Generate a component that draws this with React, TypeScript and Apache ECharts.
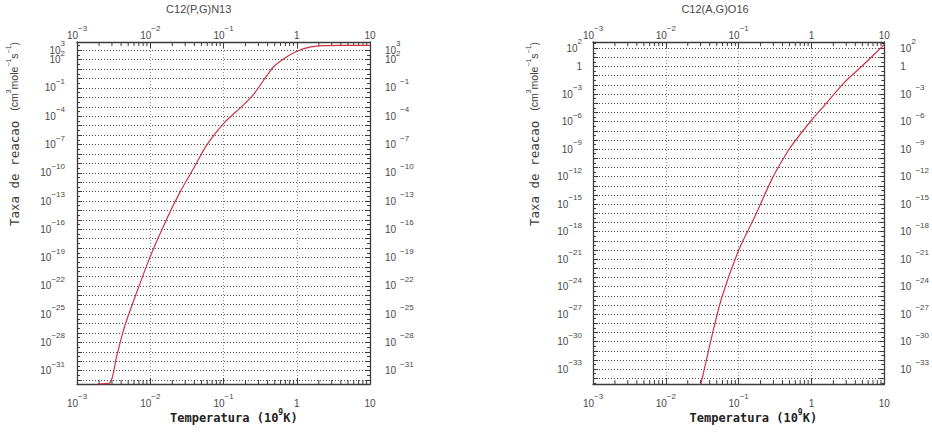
import React, { useEffect, useRef } from "react";
import * as echarts from "echarts";

// Temperature in units of 10^9 K, rate in cm^3 mole^-1 s^-1
const tempPG = [0.00191, 0.00282, 0.00347, 0.00447, 0.00646, 0.01, 0.0178, 0.0257, 0.0389, 0.0589, 0.1, 0.186, 0.251, 0.316, 0.40, 0.479, 0.69, 1.0, 1.5, 2.3, 4.0, 10.0];
const ratePG = [3.8e-33, 5.2e-33, 3.2e-30, 5.0e-27, 1.6e-23, 1.26e-19, 3.2e-15, 1.0e-12, 2.8e-10, 8.5e-8, 1.66e-5, 1.5e-3, 1.6e-2, 0.195, 2.6, 17, 150, 800, 2200, 3200, 3400, 3400];

const tempAG = [0.0282, 0.0302, 0.0437, 0.0589, 0.1, 0.17, 0.288, 0.437, 0.537, 1.0, 1.51, 2.88, 4.79, 10.0];
const rateAG = [5.0e-36, 2.2e-35, 7.6e-30, 7.4e-26, 9.1e-21, 6.0e-17, 6.0e-13, 2.1e-10, 2.6e-9, 1.4e-6, 6.0e-5, 0.021, 0.89, 250];

const titles = ["C12(P,G)N13", "C12(A,G)O16"];
const yLabelExpPG = [3, 2, -1, -4, -7, -10, -13, -16, -19, -22, -25, -28, -31];
const yLabelExpAG = [2, 0, -3, -6, -9, -12, -15, -18, -21, -24, -27, -30, -33];
const yRangePG = [-32.42, 3.88];
const yRangeAG = [-34.62, 2.68];
const xRange = [-3, 1];

const FONT = "'Liberation Sans', Arial, sans-serif";
const MONO = "'DejaVu Sans Mono', 'Liberation Mono', monospace";
const TXT = "#4a4a4a";
const AX = "#3c3c3c";
const RED = "#cc3344";

const rich = {
  b: { fontSize: 10, lineHeight: 21, verticalAlign: "middle", fontFamily: FONT, color: TXT },
  e: { fontSize: 8, lineHeight: 8, verticalAlign: "top", fontFamily: FONT, color: TXT },
  g: { fontSize: 8, lineHeight: 8, verticalAlign: "top", fontFamily: FONT, color: TXT, padding: [0, 0, 0, 4] },
};

function fmtX(val: number) {
  const v = Math.round(val);
  if (Math.abs(val - v) > 1e-6) return "";
  if (v === 0) return "{b|1}";
  if (v === 1) return "{b|10}";
  return `{b|10}{e|\u2212${-v}}`;
}

function fmtY(list: number[], gap: boolean) {
  return (val: number) => {
    const v = Math.round(val);
    if (Math.abs(val - v) > 1e-6) return "";
    if (!list.includes(v)) return "";
    if (v === 0) return "{b|1}";
    const s = v < 0 ? "\u2212" + -v : String(v);
    return `{b|10}{${gap && v < 0 ? "g" : "e"}|${s}}`;
  };
}

const minorX: number[] = [];
for (let d = -3; d < 1; d++) for (let k = 2; k <= 9; k++) minorX.push(d + Math.log10(k));

export default function App() {
  const ref = useRef<HTMLDivElement>(null);
  useEffect(() => {
    if (!ref.current) return;
    const chart = echarts.init(ref.current, undefined, { renderer: "svg" });
    const grids = [
      { left: 77, top: 42, width: 293, height: 342 },
      { left: 593, top: 42, width: 294, height: 342 },
    ];
    const yRanges = [yRangePG, yRangeAG];
    const yLists = [yLabelExpPG, yLabelExpAG];
    const xAxis: any[] = [];
    const yAxis: any[] = [];
    const series: any[] = [];
    const datasets = [
      tempPG.map((t, i) => [Math.log10(t), Math.log10(ratePG[i])]),
      tempAG.map((t, i) => [Math.log10(t), Math.log10(rateAG[i])]),
    ];
    const yMargin = [[12, 15], [11, 16]];
    for (let i = 0; i < 2; i++) {
      for (const pos of ["bottom", "top"]) {
        xAxis.push({
          type: "value",
          gridIndex: i,
          position: pos,
          min: xRange[0],
          max: xRange[1],
          interval: 1,
          axisLine: { show: true, onZero: false, lineStyle: { color: AX, width: 1.3 } },
          axisTick: { show: true, inside: true, length: 6, lineStyle: { color: AX } },
          splitLine: { show: pos === "bottom", lineStyle: { color: "#8c8c8c", type: [1, 2], width: 1 } },
          axisLabel: { formatter: fmtX, rich, margin: pos === "bottom" ? 8.5 : -3.5 },
        });
      }
      for (const pos of ["left", "right"]) {
        yAxis.push({
          type: "value",
          gridIndex: i,
          position: pos,
          min: yRanges[i][0],
          max: yRanges[i][1],
          minInterval: 1,
          maxInterval: 1,
          splitNumber: 36,
          axisLine: { show: true, onZero: false, lineStyle: { color: AX, width: 1.3 } },
          axisTick: { show: true, inside: true, length: 5, lineStyle: { color: AX } },
          minorTick: { show: true, splitNumber: 2, length: 3, lineStyle: { color: AX } },
          splitLine: { show: pos === "left", lineStyle: { color: "#4a4a4a", type: [1, 2], width: 1 } },
          axisLabel: { formatter: fmtY(yLists[i], pos === "right"), rich, margin: yMargin[i][pos === "left" ? 0 : 1] },
        });
      }
      series.push({
        type: "line",
        xAxisIndex: 2 * i,
        yAxisIndex: 2 * i,
        data: datasets[i],
        showSymbol: false,
        smooth: 0.25,
        clip: true,
        lineStyle: { color: RED, width: 1.2 },
      });
      series.push({
        type: "custom",
        xAxisIndex: 2 * i,
        yAxisIndex: 2 * i,
        silent: true,
        data: minorX.map((v) => [v, yRanges[i][0]]),
        encode: { x: 0, y: 1 },
        renderItem: (params: any, api: any) => {
          const x = api.coord([api.value(0), api.value(1)])[0];
          const cs = params.coordSys;
          const st = { stroke: AX, lineWidth: 1 };
          return {
            type: "group",
            children: [
              { type: "line", shape: { x1: x, y1: cs.y, x2: x, y2: cs.y + 4 }, style: st },
              { type: "line", shape: { x1: x, y1: cs.y + cs.height, x2: x, y2: cs.y + cs.height - 4 }, style: st },
            ],
          };
        },
      });
    }
    const titleX = [198.7, 715];
    const yTitleX = [14, 534];
    const xTitleX = [233.8, 753.3];
    const graphic: any[] = [];
    for (let i = 0; i < 2; i++) {
      graphic.push({
        type: "text",
        x: titleX[i],
        y: 9,
        style: { text: titles[i], font: `11px ${FONT}`, fill: TXT, textAlign: "center", textVerticalAlign: "middle" },
      });
      graphic.push({
        type: "text",
        x: yTitleX[i],
        y: 134,
        rotation: Math.PI / 2,
        style: {
          text: "{t|Taxa de reacao}   {u|(cm}{s|3}{u|mole}{s|\u22121}{u|s}{s|\u22121}{u|)}",
          textAlign: "center",
          textVerticalAlign: "middle",
          rich: {
            t: { fontSize: 12.5, fontFamily: MONO, fill: "#3a3a3a", lineHeight: 18, verticalAlign: "middle" },
            u: { fontSize: 10.5, fontFamily: FONT, fill: "#3a3a3a", lineHeight: 18, verticalAlign: "middle" },
            s: { fontSize: 7, fontFamily: FONT, fill: "#3a3a3a", lineHeight: 10, verticalAlign: "top" },
          },
        },
      });
      graphic.push({
        type: "text",
        x: xTitleX[i],
        y: 418,
        style: {
          text: "{t|Temperatura (10}{s|9}{t|K)}",
          textAlign: "center",
          textVerticalAlign: "middle",
          rich: {
            t: { fontSize: 12, fontFamily: MONO, fontWeight: "bold", fill: "#222", lineHeight: 20, verticalAlign: "middle" },
            s: { fontSize: 8, fontFamily: MONO, fontWeight: "bold", fill: "#222", lineHeight: 10, verticalAlign: "top" },
          },
        },
      });
    }
    chart.setOption({
      animation: false,
      backgroundColor: "#ffffff",
      grid: grids,
      xAxis,
      yAxis,
      series,
      graphic,
    });
    return () => chart.dispose();
  }, []);
  return <div ref={ref} style={{ position: "fixed", left: 0, top: 0, width: 932, height: 433 }} />;
}
